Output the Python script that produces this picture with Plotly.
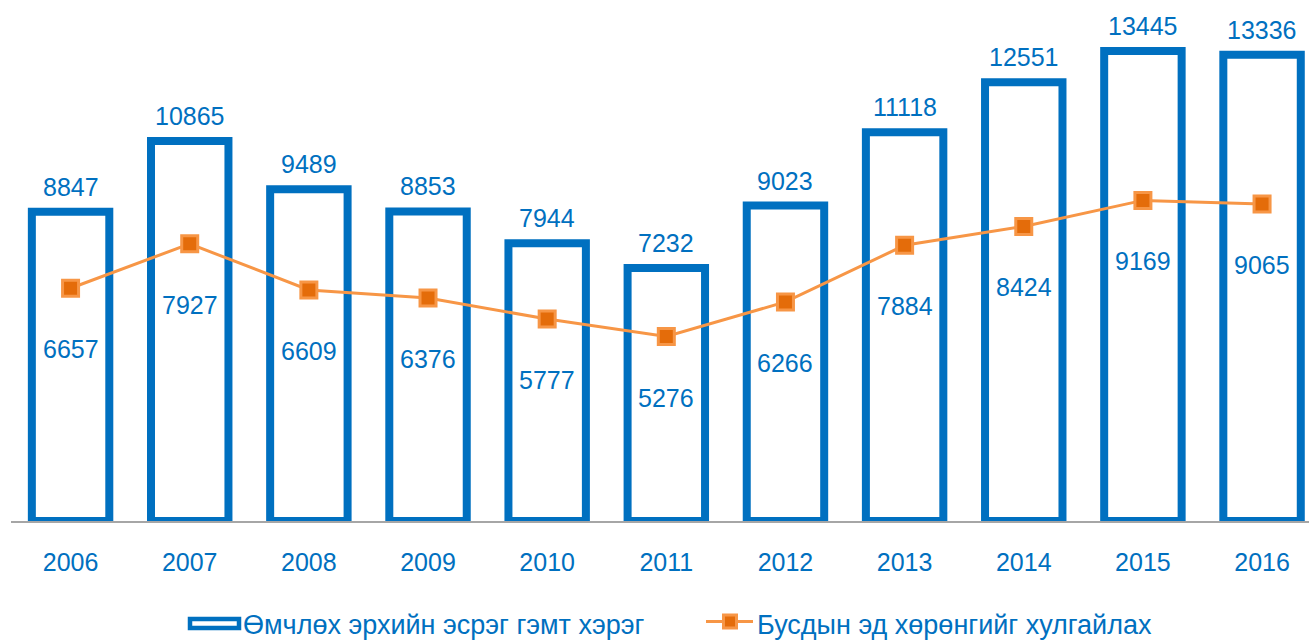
import plotly.graph_objects as go

# ---- data ----
years = ["2006", "2007", "2008", "2009", "2010", "2011", "2012", "2013", "2014", "2015", "2016"]
property_crimes = [8847, 10865, 9489, 8853, 7944, 7232, 9023, 11118, 12551, 13445, 13336]
theft = [6657, 7927, 6609, 6376, 5777, 5276, 6266, 7884, 8424, 9169, 9065]
bar_name = "Өмчлөх эрхийн эсрэг гэмт хэрэг"
line_name = "Бусдын эд хөрөнгийг хулгайлах"

BLUE = "#0070C0"
ORANGE = "#F79646"
DARK_ORANGE = "#E46C0A"
FONT = "Liberation Sans, Arial, sans-serif"

W, H = 1309, 641
ML, MR, MT, MB = 11, 0, 0, 120
PW, PH = W - ML - MR, H - MT - MB


def px(x):
    return (x - ML) / PW


def py(y):
    return (H - MB - y) / PH


fig = go.Figure()
fig.add_trace(go.Bar(
    x=years, y=property_crimes, name=bar_name,
    width=0.65,
    marker=dict(color="white", line=dict(color=BLUE, width=8)),
    showlegend=False,
))
fig.add_trace(go.Scatter(
    x=years, y=theft, name=line_name, mode="lines+markers",
    line=dict(color=ORANGE, width=3),
    marker=dict(symbol="square", size=16, color=DARK_ORANGE,
                line=dict(color=ORANGE, width=3)),
    showlegend=False,
))

annotations = []
for i, v in enumerate(property_crimes):
    annotations.append(dict(
        x=i, y=v, xref="x", yref="y", text=str(v), showarrow=False,
        yanchor="middle", yshift=25, font=dict(size=25, color=BLUE, family=FONT),
    ))
for i, v in enumerate(theft):
    annotations.append(dict(
        x=i, y=v, xref="x", yref="y", text=str(v), showarrow=False,
        yanchor="middle", yshift=-61, font=dict(size=25, color=BLUE, family=FONT),
    ))

# custom legend
shapes = [
    dict(type="rect", xref="paper", yref="paper",
         x0=px(190), x1=px(239), y0=py(619), y1=py(628),
         line=dict(color=BLUE, width=4.5), fillcolor="white", layer="above"),
    dict(type="line", xref="paper", yref="paper",
         x0=px(706), x1=px(753), y0=py(621.5), y1=py(621.5),
         line=dict(color=ORANGE, width=3), layer="above"),
    dict(type="rect", xref="paper", yref="paper",
         x0=px(723.5), x1=px(736.5), y0=py(615), y1=py(628),
         line=dict(color=ORANGE, width=3), fillcolor=DARK_ORANGE, layer="above"),
]
annotations.append(dict(x=px(241), y=py(625), xref="paper", yref="paper",
                        text=bar_name, showarrow=False, xanchor="left", yanchor="middle",
                        font=dict(size=27, color=BLUE, family=FONT)))
annotations.append(dict(x=px(755), y=py(625), xref="paper", yref="paper",
                        text=line_name, showarrow=False, xanchor="left", yanchor="middle",
                        font=dict(size=27, color=BLUE, family=FONT)))

fig.update_layout(
    width=W, height=H,
    margin=dict(l=ML, r=MR, t=MT, b=MB, pad=0),
    paper_bgcolor="white", plot_bgcolor="white",
    xaxis=dict(
        type="category", range=[-0.5, 10.394],
        showline=True, linecolor="#A6A6A6", linewidth=1.5,
        showgrid=False, zeroline=False, ticks="",
        tickfont=dict(size=25, color=BLUE, family=FONT),
        ticklabelstandoff=18,
    ),
    yaxis=dict(range=[0, 14900], visible=False, showgrid=False, zeroline=False),
    annotations=annotations,
    shapes=shapes,
    showlegend=False,
)

fig.write_html(
    "out.html",
    config={"displayModeBar": False},
    post_script="document.body.style.margin='0';document.body.style.overflow='hidden';",
)
